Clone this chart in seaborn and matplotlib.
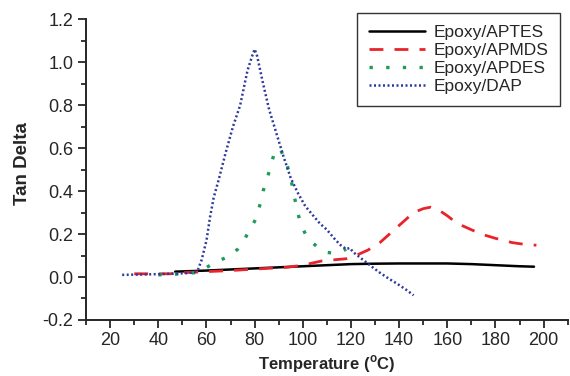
import matplotlib
matplotlib.use("Agg")
import matplotlib.pyplot as plt
import seaborn as sns
import pandas as pd
from matplotlib.ticker import MultipleLocator, FormatStrFormatter

# Tan delta curves per sample (temperature in °C)
aptes_t = [47, 55, 60, 70, 80, 90, 100, 110, 120, 130, 140, 150, 160, 170, 180, 190, 196]
aptes_v = [0.025, 0.028, 0.030, 0.035, 0.040, 0.045, 0.050, 0.055, 0.060, 0.062, 0.063, 0.063, 0.063, 0.060, 0.055, 0.050, 0.048]

apmds_t = [30, 40, 45, 50, 60, 70, 80, 90, 94, 100, 108, 118, 122, 127, 132, 136, 141, 146, 150, 153, 156, 160, 164, 170, 174, 180, 187, 192, 197]
apmds_v = [0.015, 0.015, 0.015, 0.020, 0.025, 0.030, 0.037, 0.043, 0.046, 0.055, 0.075, 0.085, 0.100, 0.125, 0.160, 0.200, 0.250, 0.300, 0.318, 0.325, 0.315, 0.285, 0.250, 0.220, 0.200, 0.180, 0.160, 0.152, 0.148]

apdes_t = [40, 50, 55, 58, 63, 66, 70, 73, 75, 78, 81, 83.5, 85, 86.5, 88, 90.5, 92, 93.5, 95, 96, 97.5, 99, 101.5, 104, 106, 110, 113, 115.5, 118]
apdes_v = [0.010, 0.015, 0.020, 0.030, 0.065, 0.080, 0.100, 0.130, 0.160, 0.220, 0.280, 0.400, 0.450, 0.510, 0.570, 0.600, 0.560, 0.520, 0.460, 0.400, 0.320, 0.250, 0.190, 0.160, 0.140, 0.115, 0.110, 0.115, 0.130]

dap_t = [25, 35, 45, 52, 55, 56.5, 58, 60, 61.5, 63, 65, 68, 71, 74, 77, 79, 80, 81, 83.5, 86, 89, 92, 95, 98, 101, 104, 107, 110, 113, 115.5, 118, 119.5, 121, 125, 129, 132, 136, 139, 143, 146]
dap_v = [0.010, 0.012, 0.015, 0.018, 0.022, 0.035, 0.080, 0.170, 0.280, 0.370, 0.450, 0.580, 0.700, 0.800, 0.960, 1.030, 1.060, 1.030, 0.900, 0.780, 0.670, 0.560, 0.460, 0.390, 0.330, 0.290, 0.250, 0.220, 0.180, 0.150, 0.130, 0.135, 0.115, 0.080, 0.045, 0.020, -0.010, -0.030, -0.060, -0.085]

labels = ["Epoxy/APTES", "Epoxy/APMDS", "Epoxy/APDES", "Epoxy/DAP"]
x_label = r"Temperature ($^\mathregular{o}$C)"
y_label = "Tan Delta"
x_ticks = [20, 40, 60, 80, 100, 120, 140, 160, 180, 200]

frames = []
for lab, t, v in zip(labels, [aptes_t, apmds_t, apdes_t, dap_t], [aptes_v, apmds_v, apdes_v, dap_v]):
    frames.append(pd.DataFrame({"Temperature": t, "TanDelta": v, "Sample": lab}))
df = pd.concat(frames, ignore_index=True)

sns.set_style("ticks")
plt.rcParams["font.family"] = ["Liberation Sans", "DejaVu Sans"]
plt.rcParams["mathtext.fontset"] = "custom"
plt.rcParams["mathtext.rm"] = "Liberation Sans"
plt.rcParams["mathtext.bf"] = "Liberation Sans:bold"

fig = plt.figure(figsize=(5.7, 3.76), dpi=100)
ax = fig.add_axes([0.151, 0.149, 0.845, 0.8])

palette = {"Epoxy/APTES": "#000000", "Epoxy/APMDS": "#e8232b",
           "Epoxy/APDES": "#1e9a5c", "Epoxy/DAP": "#2d3a9c"}
styles = {
    "Epoxy/APTES": dict(lw=1.8, ls="-"),
    "Epoxy/APMDS": dict(lw=2.0, ls=(0, (5, 4))),
    "Epoxy/APDES": dict(lw=2.4, ls=(0, (1, 4))),
    "Epoxy/DAP": dict(lw=1.8, ls=(0, (0.8, 1.0))),
}

for lab in labels:
    sub = df[df["Sample"] == lab]
    sns.lineplot(data=sub, x="Temperature", y="TanDelta", ax=ax, color=palette[lab],
                 label=lab, **styles[lab], sort=False, estimator=None)

ax.set_xlim(10, 210)
ax.set_ylim(-0.2, 1.2)
ax.set_xticks(x_ticks)
ax.xaxis.set_minor_locator(MultipleLocator(10))
ax.yaxis.set_major_locator(MultipleLocator(0.2))
ax.yaxis.set_minor_locator(MultipleLocator(0.1))
ax.yaxis.set_major_formatter(FormatStrFormatter("%.1f"))
ax.tick_params(axis="both", which="major", length=6, width=1.3, labelsize=13,
               direction="out", pad=3)
ax.tick_params(axis="both", which="minor", length=3.5, width=1.3, direction="out")
for side in ["top", "right"]:
    ax.spines[side].set_visible(False)
for side in ["left", "bottom"]:
    ax.spines[side].set_linewidth(1.4)

ax.set_xlabel(x_label, fontsize=12, fontweight="bold")
ax.xaxis.set_label_coords(0.5, -0.148)
ax.xaxis.label.set_va("center")
ax.set_ylabel(y_label, fontsize=13.5, fontweight="bold")
ax.yaxis.set_label_coords(-0.115, 0.52)

leg = ax.legend(loc="upper right", bbox_to_anchor=(0.985, 1.02), fontsize=12.5,
                frameon=True, fancybox=False, edgecolor="#333333", framealpha=1,
                labelspacing=0.15, handlelength=3.2, handletextpad=0.5,
                borderpad=0.7, borderaxespad=0.0)
leg.get_frame().set_linewidth(1.0)

fig.savefig("out.png", dpi=100)
